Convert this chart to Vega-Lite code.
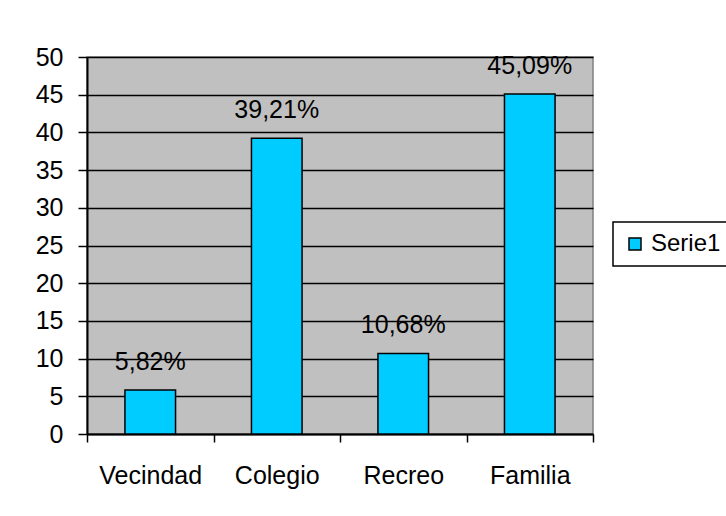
{
  "$schema": "https://vega.github.io/schema/vega-lite/v6.json",
  "width": 506,
  "height": 377,
  "autosize": {"type": "none"},
  "padding": {"left": 87, "top": 57, "right": 133, "bottom": 82},
  "background": "white",
  "data": {
    "values": [
      {"categoria": "Vecindad", "valor": 5.82, "etiqueta": "5,82%", "serie": "Serie1"},
      {"categoria": "Colegio", "valor": 39.21, "etiqueta": "39,21%", "serie": "Serie1"},
      {"categoria": "Recreo", "valor": 10.68, "etiqueta": "10,68%", "serie": "Serie1"},
      {"categoria": "Familia", "valor": 45.09, "etiqueta": "45,09%", "serie": "Serie1"}
    ]
  },
  "encoding": {
    "x": {
      "field": "categoria",
      "type": "nominal",
      "sort": null,
      "scale": {"paddingInner": 0, "paddingOuter": 0},
      "axis": {
        "title": null,
        "labelAngle": 0,
        "labelFontSize": 25,
        "labelFont": "Liberation Sans",
        "labelColor": "black",
        "labelPadding": 21,
        "tickBand": "extent",
        "tickSize": 8,
        "tickColor": "black",
        "tickWidth": 1.5,
        "domainColor": "black",
        "domainWidth": 2
      }
    },
    "y": {
      "field": "valor",
      "type": "quantitative",
      "scale": {"domain": [0, 50], "nice": false},
      "axis": {
        "title": null,
        "values": [0, 5, 10, 15, 20, 25, 30, 35, 40, 45, 50],
        "labelFontSize": 25,
        "labelFont": "Liberation Sans",
        "labelColor": "black",
        "labelPadding": 15,
        "tickSize": 9,
        "tickColor": "black",
        "tickWidth": 1.5,
        "domainColor": "black",
        "domainWidth": 2,
        "grid": true,
        "gridColor": "black",
        "gridWidth": 1.5,
        "gridOpacity": 1
      }
    }
  },
  "layer": [
    {
      "mark": {"type": "bar", "stroke": "black", "strokeWidth": 1.5, "width": {"band": 0.4}},
      "encoding": {
        "color": {
          "field": "serie",
          "type": "nominal",
          "scale": {"range": ["#00CCFF"]},
          "legend": {
            "title": null,
            "orient": "none",
            "legendX": 526,
            "legendY": 165,
            "symbolType": "square",
            "symbolSize": 144,
            "symbolStrokeColor": "black",
            "symbolStrokeWidth": 1.5,
            "symbolOpacity": 1,
            "labelFontSize": 24,
            "labelFont": "Liberation Sans",
            "labelColor": "black",
            "strokeColor": "black",
            "fillColor": "white",
            "padding": 10,
            "labelOffset": 4
          }
        }
      }
    },
    {
      "mark": {
        "type": "text",
        "dy": -20,
        "baseline": "alphabetic",
        "fontSize": 25,
        "font": "Liberation Sans",
        "color": "black"
      },
      "encoding": {"text": {"field": "etiqueta"}}
    }
  ],
  "config": {
    "view": {"fill": "#C0C0C0", "stroke": "#808080", "strokeWidth": 1.5},
    "legend": {"strokeWidth": 1.5}
  }
}
